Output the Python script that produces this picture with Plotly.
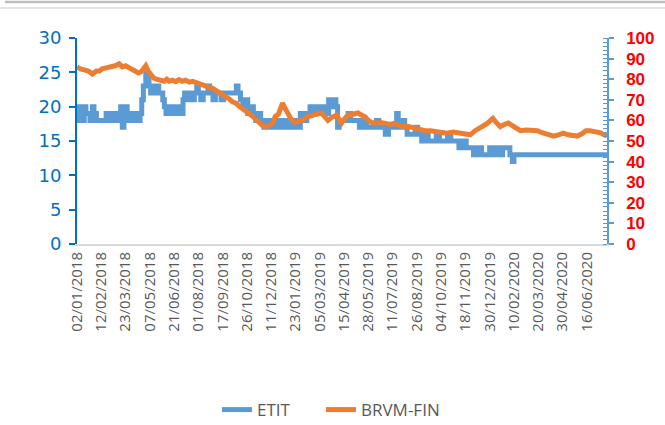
import plotly.graph_objects as go

# Category tick labels (every 30th trading day)
tick_labels = ["02/01/2018", "12/02/2018", "23/03/2018", "07/05/2018", "21/06/2018",
               "01/08/2018", "17/09/2018", "26/10/2018", "11/12/2018", "23/01/2019",
               "05/03/2019", "15/04/2019", "28/05/2019", "11/07/2019", "26/08/2019",
               "04/10/2019", "18/11/2019", "30/12/2019", "10/02/2020", "20/03/2020",
               "30/04/2020", "16/06/2020"]
tick_index = [i * 30 for i in range(len(tick_labels))]

# ETIT (left axis) - trading-day index and price
etit_idx = [0, 2, 4, 7, 9, 11, 14, 16, 19, 21, 24, 34, 36, 38, 44, 46, 50, 52, 54, 56,
            58, 60, 62, 64, 67, 69, 72, 74, 78, 80, 82, 85, 87, 89, 91, 94, 96, 99, 101, 104,
            106, 108, 110, 113, 116, 119, 122, 126, 129, 131, 133, 136, 139, 142, 145, 148, 150, 153, 156, 160,
            162, 164, 168, 171, 175, 178, 181, 186, 190, 194, 197, 199, 202, 205, 208, 211, 214, 218, 221, 224,
            227, 231, 234, 237, 240, 244, 247, 251, 254, 258, 262, 266, 270, 273, 276, 280, 284, 288, 292, 296,
            300, 304, 308, 311, 314, 317, 320, 322, 324, 330, 335, 338, 345, 349, 355, 358, 365, 370, 373, 378,
            381, 385, 390, 395, 397, 401, 405, 408, 414, 418, 421, 426, 430, 434, 440, 444, 448, 454, 458, 462,
            468, 472, 478, 481, 487, 490, 496, 500, 506, 510, 514, 518, 522, 526, 532, 535, 538, 540, 655]
etit_val = [18, 20, 19, 18, 20, 19, 19, 18, 20, 19, 18, 18, 19, 18, 19, 18, 19, 18, 20, 17,
            18, 20, 19, 18, 19, 18, 19, 18, 19, 21, 23, 25, 24, 23, 22, 23, 22, 23, 22, 22,
            21, 20, 19, 20, 19, 20, 19, 20, 19, 21, 22, 21, 22, 21, 22, 23, 22, 21, 22, 22,
            23, 22, 21, 22, 22, 21, 22, 22, 22, 22, 23, 22, 21, 20, 21, 19, 20, 19, 18, 19,
            18, 17, 18, 17, 18, 17, 18, 17, 18, 17, 18, 17, 18, 17, 19, 18, 19, 20, 19, 20,
            19, 20, 19, 21, 20, 21, 20, 17, 18, 18, 19, 18, 18, 17, 18, 17, 17, 18, 17, 17,
            16, 17, 17, 19, 17, 18, 17, 16, 16, 17, 16, 15, 16, 15, 15, 16, 15, 15, 16, 15,
            15, 14, 15, 14, 14, 13, 14, 13, 13, 14, 13, 14, 13, 14, 14, 13, 12, 13, 13]

# BRVM-FIN (right axis)
brvm_idx = [0, 4, 9, 14, 19, 24, 28, 31, 36, 42, 47, 52, 56, 60, 65, 70, 73, 76, 79, 83,
            85, 88, 92, 95, 98, 103, 108, 111, 114, 118, 122, 126, 130, 134, 139, 143, 147, 151, 155, 160,
            164, 168, 172, 176, 180, 185, 188, 192, 196, 201, 204, 207, 212, 217, 221, 225, 229, 234, 238, 242,
            245, 249, 254, 257, 260, 264, 269, 273, 278, 283, 290, 296, 302, 306, 310, 315, 321, 324, 327, 331,
            335, 341, 347, 352, 356, 360, 364, 370, 375, 380, 386, 391, 396, 403, 410, 418, 424, 430, 437, 443,
            449, 457, 465, 472, 479, 486, 492, 497, 502, 507, 511, 514, 518, 523, 528, 533, 538, 543, 548, 555,
            562, 569, 575, 582, 589, 595, 601, 607, 612, 618, 624, 629, 634, 640, 647, 651, 655]
brvm_val = [86, 85, 84.5, 84, 82.5, 84, 84, 85, 85.5, 86, 86.5, 87.5, 86, 86.5, 85.5, 84.5, 84, 83, 83.5, 85,
            86.5, 84, 82, 80.5, 80, 79.5, 79, 80, 79, 79.5, 78.8, 79.8, 79, 79.5, 78.6, 79, 78.5, 78, 77.5, 76.5,
            75.7, 75.5, 74.5, 73.8, 72.5, 71, 70.5, 69, 68.5, 66.7, 66, 65, 63.5, 62, 60.5, 59, 57.5, 57, 57.5, 58.7,
            62, 63, 68.4, 66, 64, 61, 59, 59.5, 60, 61.5, 62.6, 63, 63.6, 62, 60, 61.5, 62.6, 60.5, 58.7, 61,
            62.6, 63, 63.6, 62.5, 61.7, 60, 59, 58.5, 59, 58.7, 58, 58.5, 57.8, 57, 57, 56, 55.5, 55, 55, 54.6,
            54.4, 53.8, 54.4, 54, 53.5, 53, 55, 56, 57, 58.5, 60, 61, 59, 57, 58, 58.7, 57.5, 56, 55, 55.3,
            55, 55, 54, 53, 52.4, 53, 53.8, 53, 52.5, 52.4, 53.5, 55, 55, 54.5, 54, 53, 52.5]

legend_font = dict(family="Open Sans", size=17, color="#595959")

fig = go.Figure()
fig.add_trace(go.Scatter(x=etit_idx, y=etit_val, name="ETIT", mode="lines", legend="legend",
                         line=dict(color="#5B9BD5", width=5, shape="hv"), yaxis="y"))
fig.add_trace(go.Scatter(x=brvm_idx, y=brvm_val, name="BRVM-FIN", mode="lines", legend="legend2",
                         line=dict(color="#ED7D31", width=5), yaxis="y2"))

fig.update_layout(
    width=665, height=425,
    margin=dict(l=77, r=58, t=38, b=181, autoexpand=False),
    paper_bgcolor="white", plot_bgcolor="white",
    showlegend=True,
    legend=dict(orientation="h", x=(217 - 77) / 530, xanchor="left", y=-0.806, yanchor="middle",
                font=legend_font, bgcolor="rgba(0,0,0,0)"),
    legend2=dict(orientation="h", x=(321 - 77) / 530, xanchor="left", y=-0.806, yanchor="middle",
                 font=legend_font, bgcolor="rgba(0,0,0,0)"),
    xaxis=dict(range=[0, 655], tickmode="array", tickvals=tick_index, ticktext=tick_labels,
               tickangle=-90, ticks="", showgrid=False, zeroline=False, automargin=False,
               showline=True, linecolor="#D9D9D9", linewidth=2,
               tickfont=dict(family="Open Sans", size=15, color="#595959")),
    yaxis=dict(range=[0, 30], dtick=5, showgrid=False, zeroline=False, automargin=False,
               showline=True, linecolor="#0070C0", linewidth=2,
               ticks="outside", ticklen=6, tickcolor="#0070C0", tickwidth=1.5,
               ticklabelstandoff=4,
               tickfont=dict(family="DejaVu Sans", size=18, color="#0070C0")),
    yaxis2=dict(range=[0, 100], dtick=10, overlaying="y", side="right", showgrid=False, zeroline=False,
                automargin=False,
                showline=True, linecolor="#5B9BD5", linewidth=1.5,
                ticks="outside", ticklen=5, tickcolor="#5B9BD5", tickwidth=1.5,
                ticklabelstandoff=9,
                minor=dict(ticks="inside", dtick=2, ticklen=4, tickcolor="#5B9BD5", tickwidth=1),
                tickfont=dict(family="Liberation Sans", size=17, color="#FF0000", weight="bold")),
    shapes=[
        dict(type="line", xref="paper", yref="paper", x0=(5 - 77) / 530, x1=(665 - 77) / 530,
             y0=(244 - 2) / 206, y1=(244 - 2) / 206, line=dict(color="#BFBFBF", width=2.5)),
        dict(type="line", xref="paper", yref="paper", x0=-77 / 530, x1=(665 - 77) / 530,
             y0=(244 - 8) / 206, y1=(244 - 8) / 206, line=dict(color="#DDDDDD", width=1.5)),
    ],
)

fig.write_html("out.html", config={"displayModeBar": False},
               post_script="document.body.style.margin='0px';document.body.style.overflow='hidden';")
